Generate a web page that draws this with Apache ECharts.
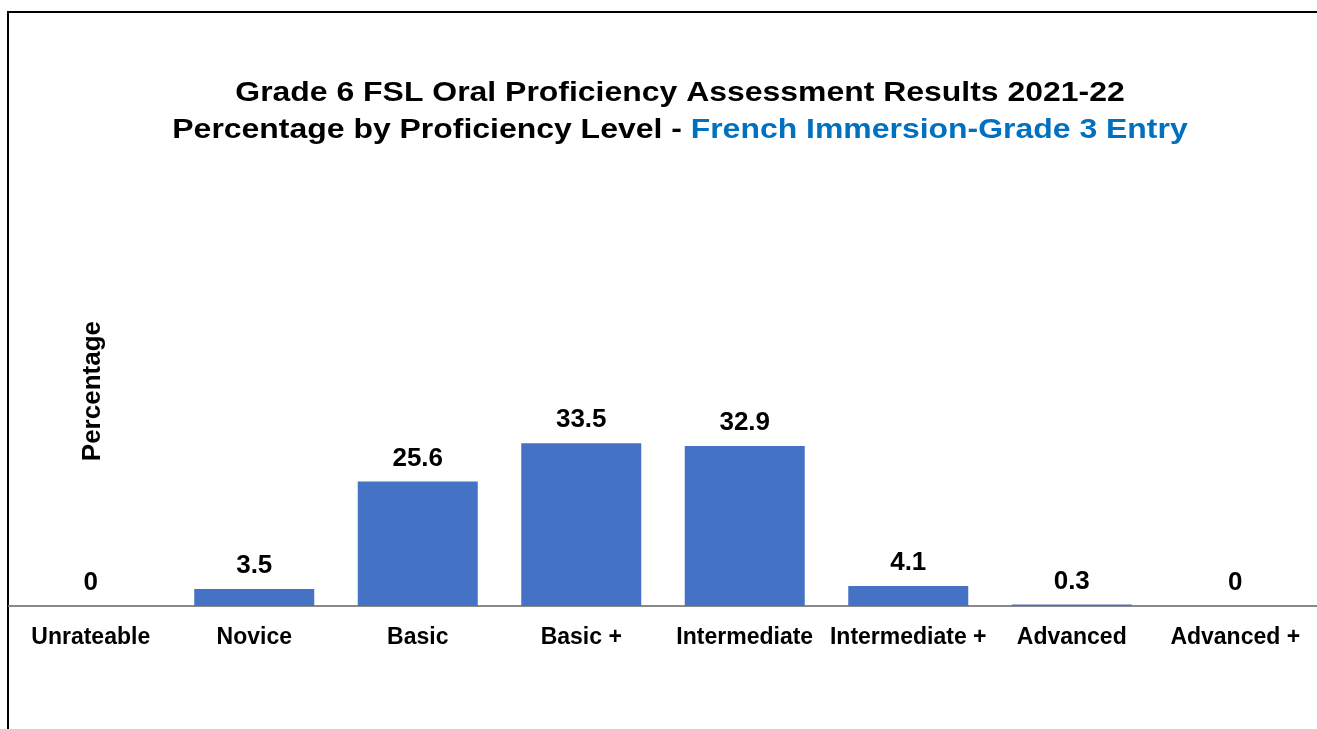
<!DOCTYPE html>
<html>
<head>
<meta charset="utf-8">
<script src="https://cdn.jsdelivr.net/npm/echarts@6/dist/echarts.min.js"></script>
<style>
  html, body { margin: 0; padding: 0; background: #fff; }
  #chart { width: 1317px; height: 729px; }
</style>
</head>
<body>
<div id="chart"></div>
<script>
const levels = ['Unrateable', 'Novice', 'Basic', 'Basic +', 'Intermediate', 'Intermediate +', 'Advanced', 'Advanced +']
const percentages = [0, 3.5, 25.6, 33.5, 32.9, 4.1, 0.3, 0]

const FONT = 'Liberation Sans'

const chart = echarts.init(document.getElementById('chart'))

const option = {
  animation: false,
  textStyle: { fontFamily: FONT },
  graphic: [
    {
      type: 'rect',
      shape: { x: 8, y: 12, width: 1400, height: 800 },
      style: { fill: 'none', stroke: '#000', lineWidth: 2 },
    },
    {
      // chart title, the original is drawn a bit wider than plain Arial
      type: 'text',
      x: 680,
      y: 75,
      scaleX: 1.183,
      style: {
        text: '{t|Grade 6 FSL Oral Proficiency Assessment Results 2021-22}\n{t|Percentage by Proficiency Level - }{b|French Immersion-Grade 3 Entry}',
        align: 'center',
        verticalAlign: 'top',
        rich: {
          t: { fontSize: 27, fontWeight: 'bold', fill: '#000', lineHeight: 37, fontFamily: FONT },
          b: { fontSize: 27, fontWeight: 'bold', fill: '#0070C0', lineHeight: 37, fontFamily: FONT },
        },
      },
    },
    {
      type: 'text',
      left: 80,
      top: 321,
      rotation: Math.PI / 2,
      style: {
        text: 'Percentage',
        fontSize: 26,
        fontWeight: 'bold',
        fill: '#000',
        fontFamily: FONT,
      },
    },
  ],
  grid: {
    left: 9,
    right: -4,
    top: 363,
    bottom: 123,
  },
  xAxis: {
    type: 'category',
    data: levels,
    axisLine: { lineStyle: { color: '#898989', width: 2 } },
    axisTick: { show: false },
    axisLabel: {
      interval: 0,
      margin: 20,
      fontSize: 23,
      fontWeight: 'bold',
      color: '#000',
      fontFamily: FONT,
    },
  },
  yAxis: {
    type: 'value',
    min: 0,
    max: 50,
    show: false,
  },
  series: [
    {
      type: 'bar',
      data: percentages,
      barWidth: 120,
      itemStyle: { color: '#4472C4' },
      label: {
        show: true,
        position: 'top',
        distance: 10,
        fontSize: 26,
        fontWeight: 'bold',
        color: '#000',
        fontFamily: FONT,
      },
    },
  ],
}

chart.setOption(option)
</script>
</body>
</html>
